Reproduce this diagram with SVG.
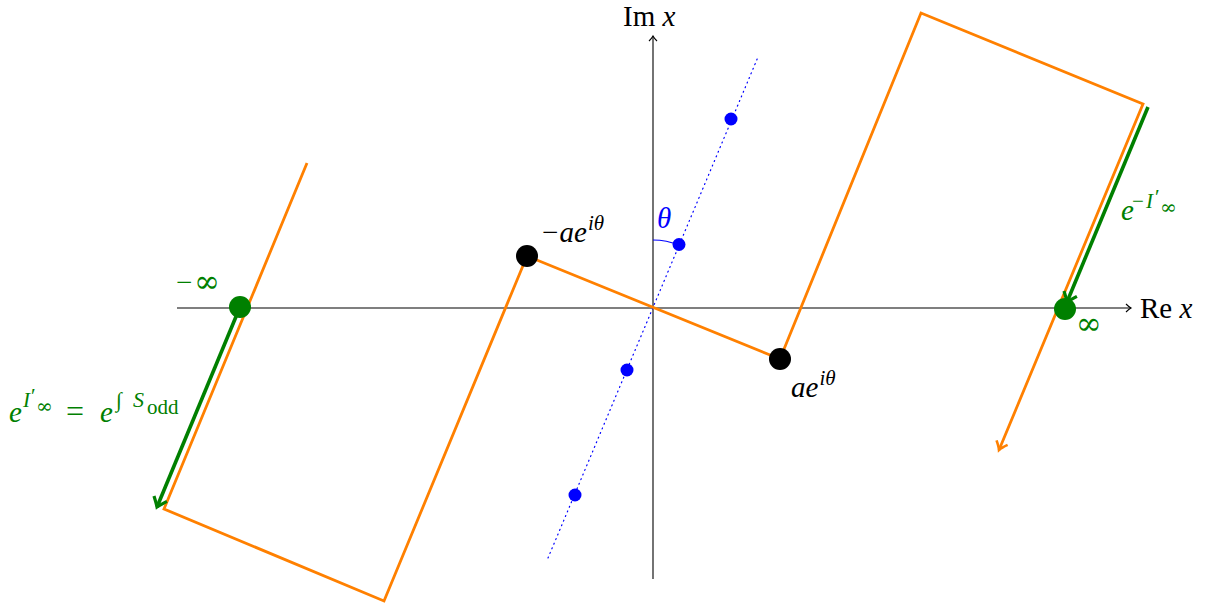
<svg xmlns="http://www.w3.org/2000/svg" width="1211" height="609" viewBox="0 0 1211 609">
<style>
.ax{stroke:#000;stroke-width:1.1;fill:none}
.or{stroke:#FF8000;stroke-width:2.8;fill:none;stroke-linejoin:miter}
.gr{stroke:#008000;stroke-width:3.6;fill:none}
.bl{stroke:#0000FF;stroke-width:1.2;fill:none}
.t{font-family:"Liberation Serif","DejaVu Serif",serif}
.i{font-style:italic}
.n{font-style:normal}
.inf{font-family:"DejaVu Serif",serif;font-style:normal}
</style>
<defs>
<marker id="ah" markerWidth="12" markerHeight="12" refX="10" refY="6" orient="auto" markerUnits="userSpaceOnUse">
<path d="M5 2 Q8 5 10 6 Q8 7 5 10" stroke="#000" stroke-width="1.1" fill="none"/>
</marker>
<marker id="ao" markerWidth="16" markerHeight="16" refX="13" refY="8" orient="auto" markerUnits="userSpaceOnUse">
<path d="M5 2 Q10 6.5 13 8 Q10 9.5 5 14" stroke="#FF8000" stroke-width="2.6" fill="none"/>
</marker>
<marker id="ag" markerWidth="18" markerHeight="18" refX="14" refY="9" orient="auto" markerUnits="userSpaceOnUse">
<path d="M5 2 Q11 7 14 9 Q11 11 5 16" stroke="#008000" stroke-width="3.2" fill="none"/>
</marker>
</defs>

<g id="axes">
<line class="ax" x1="177" y1="308" x2="1131" y2="308" marker-end="url(#ah)"/>
<line class="ax" x1="653" y1="579" x2="653" y2="36" marker-end="url(#ah)"/>
</g>

<g id="connectors">
<line x1="548" y1="558" x2="758" y2="57" stroke="#0000FF" stroke-width="1.2" stroke-dasharray="1 4" stroke-linecap="round"/>
<path class="bl" d="M653 240 A68 68 0 0 1 679.2 245.3"/>
<path class="or" d="M307 163 L164 509 L384 601 L527 256 L780 359 L921 13 L1143 104 L999 450" marker-end="url(#ao)"/>
<line class="gr" x1="240" y1="307" x2="157" y2="507" marker-end="url(#ag)"/>
<line class="gr" x1="1148" y1="107" x2="1067" y2="302" marker-end="url(#ag)"/>
</g>

<g id="points">
<circle id="p-minus-a" cx="527" cy="256" r="11" fill="#000"/>
<circle id="p-a" cx="780" cy="359" r="11" fill="#000"/>
<circle id="p-minf" cx="240" cy="307" r="11" fill="#008000"/>
<circle id="p-inf" cx="1065" cy="309" r="11" fill="#008000"/>
<circle cx="731" cy="119" r="6.5" fill="#0000FF"/>
<circle cx="679" cy="244.5" r="6.5" fill="#0000FF"/>
<circle cx="627" cy="370" r="6.5" fill="#0000FF"/>
<circle cx="575" cy="495" r="6.5" fill="#0000FF"/>
</g>

<g id="labels" font-size="29">
<text class="t" x="623" y="26">Im <tspan class="i">x</tspan></text>
<text class="t" x="1140" y="318">Re <tspan class="i">x</tspan></text>
<text class="t i" x="540" y="242">−ae<tspan dx="1" dy="-12" font-size="21">iθ</tspan></text>
<text class="t i" x="791" y="397">ae<tspan dx="1" dy="-12" font-size="21">iθ</tspan></text>
<text class="t i" x="657" y="228" fill="#0000FF">θ</text>
<g fill="#008000">
<text class="t" x="176" y="292">−<tspan class="inf" dx="2" font-size="31">∞</tspan></text>
<text class="t inf" x="1076" y="334" font-size="31">∞</text>
<text class="t i" x="1121" y="220">e</text>
<text class="t n" x="1132" y="208" font-size="21">−</text>
<text class="t i" x="1146" y="208" font-size="21">I</text>
<text class="t n" x="1155" y="204" font-size="21">′</text>
<text class="t inf" x="1160" y="214" font-size="20">∞</text>
<text class="t i" x="9" y="422">e</text>
<text class="t i" x="23" y="407" font-size="21">I</text>
<text class="t n" x="31" y="403" font-size="21">′</text>
<text class="t inf" x="36" y="413" font-size="20">∞</text>
<text class="t n" x="66" y="422" font-size="32">=</text>
<text class="t i" x="100" y="422">e</text>
<text class="t n" x="116" y="407" font-size="21">∫</text>
<text class="t i" x="133" y="407" font-size="22">S</text>
<text class="t n" x="147" y="414" font-size="21">odd</text>
</g>
</g>
</svg>
